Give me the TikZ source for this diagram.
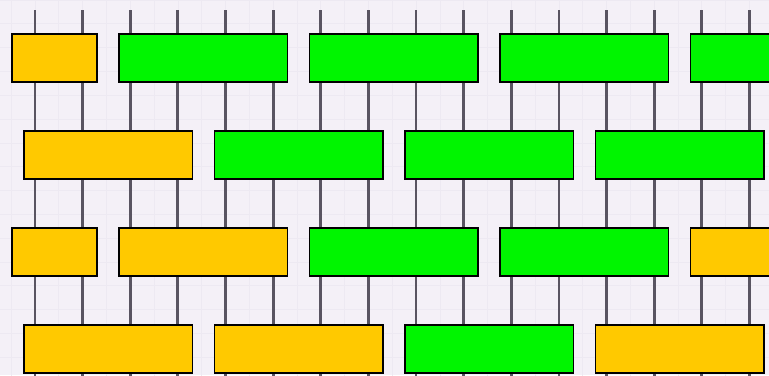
\documentclass[tikz,border=0pt]{standalone}
\usepackage{xcolor}
\usetikzlibrary{positioning}

\definecolor{slotbg}{rgb}{0.955,0.940,0.970}
\definecolor{slotgrid}{rgb}{0.930,0.915,0.948}
\definecolor{slotline}{rgb}{0.35,0.33,0.38}
\definecolor{slotgreen}{rgb}{0.00,0.96,0.00}
\definecolor{slotgold}{rgb}{1.00,0.79,0.00}

\begin{document}
\begin{tikzpicture}[
      run/.style={draw=black, fill=slotgreen, line width=1.1pt,
                  minimum width=3.37cm, minimum height=0.96cm,
                  inner sep=0pt, outer sep=0pt, anchor=north west},
      wait/.style={run, fill=slotgold},
      tick/.style={draw=slotline, line width=1.6pt}
  ]
    \useasboundingbox (0,-7.5) rectangle (15.38,0);
    \clip (0,-7.5) rectangle (15.38,0);
    \fill[slotbg] (0,-7.5) rectangle (15.38,0);
    \draw[slotgrid, line width=0.4pt, xstep=0.4763cm, ystep=0.4763cm, xshift=0.224cm]
      (-0.5,-7.6) grid (15.5,0.1);
    \foreach \k in {0,...,15}
      \draw[tick] ({0.70+0.9526*\k},-0.20) -- ({0.70+0.9526*\k},-7.6);

    % row 1
    \node[wait, minimum width=1.70cm] (r1a) at (0.24,-0.68) {};
    \node[run]  (r1b) at (2.38,-0.68) {};
    \node[run, right=0.44cm of r1b] (r1c) {};
    \node[run, right=0.44cm of r1c] (r1d) {};
    \node[run, right=0.44cm of r1d] (r1e) {};
    % row 2
    \node[wait] (r2a) at (0.48,-2.62) {};
    \node[run, right=0.44cm of r2a] (r2b) {};
    \node[run, right=0.44cm of r2b] (r2c) {};
    \node[run, right=0.44cm of r2c] (r2d) {};
    % row 3
    \node[wait, minimum width=1.70cm] (r3a) at (0.24,-4.56) {};
    \node[wait] (r3b) at (2.38,-4.56) {};
    \node[run, right=0.44cm of r3b]  (r3c) {};
    \node[run, right=0.44cm of r3c]  (r3d) {};
    \node[wait, right=0.44cm of r3d] (r3e) {};
    % row 4
    \node[wait] (r4a) at (0.48,-6.50) {};
    \node[wait, right=0.44cm of r4a] (r4b) {};
    \node[run, right=0.44cm of r4b]  (r4c) {};
    \node[wait, right=0.44cm of r4c] (r4d) {};
  \end{tikzpicture}
\end{document}
